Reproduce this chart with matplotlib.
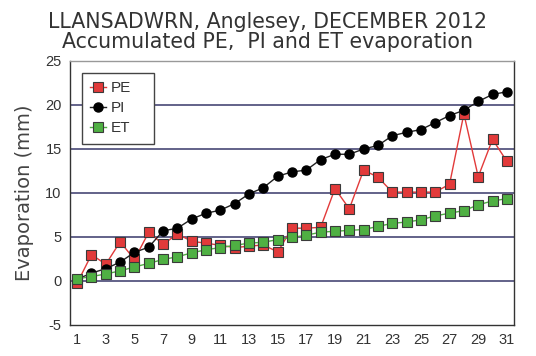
import matplotlib.pyplot as plt

plt.rcParams['axes.unicode_minus'] = False

# dias do mês
dias = list(range(1, 32))

# valores acumulados (mm)
PE = [-0.25, 3.0, 1.9, 4.45, 2.45, 5.55, 4.15, 5.35, 4.5, 4.3, 4.05, 3.8, 3.95, 4.1, 3.3, 6.0,
      6.0, 6.1, 10.5, 8.2, 12.6, 11.8, 10.1, 10.1, 10.1, 10.1, 11.0, 19.0, 11.85, 16.1, 13.6]
PI = [0.2, 0.9, 1.4, 2.15, 3.25, 3.85, 5.7, 6.0, 7.05, 7.7, 8.05, 8.8, 9.9, 10.6, 11.9, 12.4,
      12.6, 13.8, 14.4, 14.4, 15.0, 15.4, 16.5, 16.9, 17.2, 18.0, 18.8, 19.4, 20.4, 21.2, 21.5]
ET = [0.25, 0.5, 0.8, 1.15, 1.6, 2.0, 2.45, 2.75, 3.2, 3.55, 3.8, 4.05, 4.3, 4.4, 4.7, 4.95,
      5.2, 5.55, 5.65, 5.75, 5.85, 6.2, 6.55, 6.7, 6.95, 7.4, 7.7, 8.0, 8.65, 9.1, 9.35]

xticks = list(range(1, 32, 2))
yticks = [-5, 0, 5, 10, 15, 20, 25]

fig = plt.figure(figsize=(5.36, 3.56), dpi=100)
ax = fig.add_axes([0.1306, 0.0871, 0.8284, 0.7416])

# grade horizontal
for g in [0, 5, 10, 15, 20]:
	ax.axhline(g, color='#38386a', lw=1.1, zorder=1)

ax.plot(dias, PE, color='#e23a3a', lw=1, marker='s', ms=6.5, mfc='#e23a3a', mec='#3a3a3a', mew=0.8,
        label='PE', zorder=3)
ax.plot(dias, PI, color='#222222', lw=1, marker='o', ms=6.5, mfc='black', mec='black',
        label='PI', zorder=4)
ax.plot(dias, ET, color='#4fb043', lw=1, marker='s', ms=6.5, mfc='#4fb043', mec='#3a3a3a', mew=0.8,
        label='ET', zorder=5)

ax.set_xlim(0.5, 31.5)
ax.set_ylim(-5, 25)
ax.set_xticks(xticks)
ax.set_yticks(yticks)
ax.tick_params(length=0, labelsize=10.5, colors='#333333', pad=6)
for lab in ax.get_xticklabels() + ax.get_yticklabels():
	lab.set_family('Liberation Sans')

for s in ax.spines.values():
	s.set_color('#333333')
	s.set_linewidth(1.0)
ax.spines['top'].set_color('#999999')

ax.set_ylabel('Evaporation (mm)', fontsize=14, color='#444444', labelpad=8)

leg = ax.legend(loc='upper left', bbox_to_anchor=(0.027, 0.7, 0.162, 0.255), mode='expand',
                borderaxespad=0, fancybox=False, framealpha=1,
                edgecolor='#444444', handlelength=1.0, handletextpad=0.3, borderpad=0.55,
                labelspacing=0.4, prop={'family': 'Liberation Sans', 'size': 11})
leg.get_frame().set_linewidth(1.0)
for t in leg.get_texts():
	t.set_color('#333333')

fig.text(0.5, 0.967, 'LLANSADWRN, Anglesey, DECEMBER 2012\nAccumulated PE,  PI and ET evaporation',
         ha='center', va='top', fontsize=14.8, color='#333333', linespacing=1.0)

fig.savefig('out.png', dpi=100)
